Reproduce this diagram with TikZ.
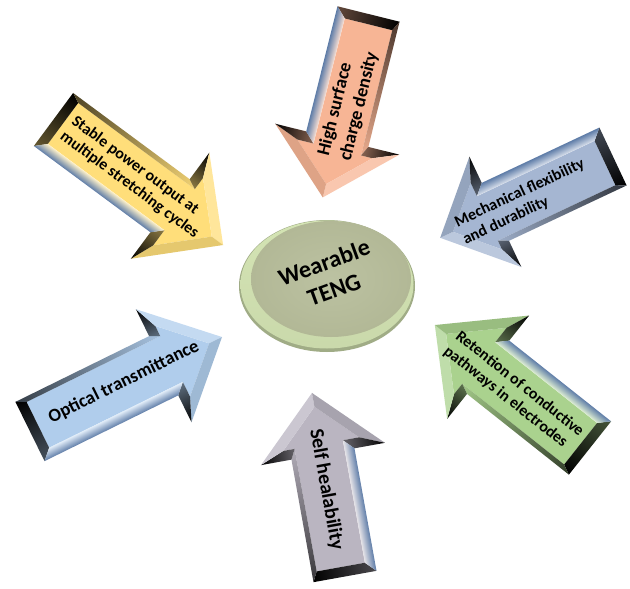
\documentclass[tikz,border=0pt]{standalone}
\usepackage{fontspec}
\setmainfont{Carlito}
\definecolor{cyel}{RGB}{255,222,122}
\definecolor{cpink}{RGB}{247,181,149}
\definecolor{cmech}{RGB}{165,182,210}
\definecolor{copt}{RGB}{176,205,236}
\definecolor{cgreen}{RGB}{170,210,142}
\definecolor{cgray}{RGB}{186,181,193}
\definecolor{csteel}{RGB}{95,125,168}
\definecolor{cface}{RGB}{178,184,150}
\definecolor{cfacein}{RGB}{188,194,162}
\definecolor{crim}{RGB}{212,228,180}
\definecolor{crimdark}{RGB}{160,172,134}
\tikzset{
  lbl/.style={align=left, inner sep=0pt, text=black, font=\bfseries},
}
\newcommand{\arrowbody}[5]{%
  \pgfmathsetmacro{\arL}{#1}%
  \pgfmathsetmacro{\arW}{#2}%
  \pgfmathsetmacro{\arH}{#3}%
  \pgfmathsetmacro{\arA}{#4}%
  \pgfmathsetmacro{\arB}{10}%
  \pgfmathsetmacro{\arS}{sqrt(\arH*\arH+\arA*\arA)}%
  \pgfmathsetmacro{\arX}{\arL-\arA}%
  \pgfmathsetmacro{\arXi}{\arL-\arA+\arB}%
  \pgfmathsetmacro{\arYi}{\arH-\arB*(\arH+\arS)/\arA}%
  \pgfmathsetmacro{\arTip}{\arL-\arB*\arS/\arH}%
  \pgfmathsetmacro{\arWi}{\arW-\arB}%
  \pgfmathsetmacro{\arWt}{\arW-5}%
  \coordinate (P1) at (0,-\arW);
  \coordinate (P2) at (\arX,-\arW);
  \coordinate (P3) at (\arX,-\arH);
  \coordinate (P4) at (\arL,0);
  \coordinate (P5) at (\arX,\arH);
  \coordinate (P6) at (\arX,\arW);
  \coordinate (P7) at (0,\arW);
  \coordinate (I1) at (\arB,-\arWt);
  \coordinate (I2) at (\arXi,-\arWt);
  \coordinate (I3) at (\arXi,-\arYi);
  \coordinate (I4) at (\arTip,0);
  \coordinate (I5) at (\arXi,\arYi);
  \coordinate (I6) at (\arXi,\arWi);
  \coordinate (I7) at (\arB,\arWi);
  \fill[#5] (I1) -- (I2) -- (I3) -- (I4) -- (I5) -- (I6) -- (I7) -- cycle;
  \shade[top color=black, bottom color=#5!40!black] (P7) -- (P1) -- (I1) -- (I7) -- cycle;
  \shade[left color=#5!30!black, middle color=#5!85!black, right color=#5!95!black] (P1) -- (P2) -- (I2) -- (I1) -- cycle;
  \shade[top color=black, bottom color=#5!55!black] (P2) -- (P3) -- (I3) -- (I2) -- cycle;
  \fill[#5!75!white] (P3) -- (P4) -- (I4) -- (I3) -- cycle;
  \fill[#5!90!black] (P4) -- (P5) -- (I5) -- (I4) -- cycle;
  \shade[top color=#5!55!black, bottom color=black] (P5) -- (P6) -- (I6) -- (I5) -- cycle;
  \shade[top color=#5!40!white, bottom color=csteel] (P6) -- (P7) -- (I7) -- (I6) -- cycle;
}
\begin{document}
\begin{tikzpicture}[x=1pt,y=-1pt]
  \useasboundingbox (0,0) rectangle (630,589);
  \fill[white] (0,0) rectangle (630,589);

  % central disk
  \fill[crimdark] (327,286) ellipse [x radius=88, y radius=66];
  \shade[top color=crim, bottom color=crim!80!crimdark] (327,284.5) ellipse [x radius=86.5, y radius=64];
  \shade[inner color=cfacein, outer color=cface] (331,279) ellipse [x radius=80, y radius=58];
  \node[lbl, align=center, rotate=20, font=\bfseries\fontsize{24}{29}\selectfont] (teng) at (329,276) {Wearable\\TENG};

  % arrow bodies
  \begin{scope}[transform canvas={shift={(53.5,119.5)},rotate=-36.5}]
    \arrowbody{211}{33}{66}{66}{cyel}
  \end{scope}
  \begin{scope}[transform canvas={shift={(368.5,14)},rotate=-104}]
    \arrowbody{189}{32}{64}{60}{cpink}
  \end{scope}
  \begin{scope}[transform canvas={shift={(613,156.5)},rotate=-154.8}]
    \arrowbody{191}{32}{61}{61}{cmech}
  \end{scope}
  \begin{scope}[transform canvas={shift={(30,431.5)},rotate=26.2}]
    \arrowbody{214}{33}{63}{65}{copt}
  \end{scope}
  \begin{scope}[transform canvas={shift={(590,448)},rotate=141.6}]
    \arrowbody{198}{34}{66}{68}{cgreen}
  \end{scope}
  \begin{scope}[transform canvas={shift={(345,576.5)},rotate=100.2}]
    \arrowbody{186.5}{32}{63}{62}{cgray}
  \end{scope}

  % arrow labels
  \node[lbl, rotate=-36.5, font=\bfseries\fontsize{16}{19}\selectfont] (stable) at (135.1,177.4) {Stable power output at\\multiple stretching cycles};
  \node[lbl, rotate=76, font=\bfseries\fontsize{18.5}{22.5}\selectfont] (charge) at (348.2,103.8) {High surface\\charge density};
  \node[lbl, rotate=25.2, font=\bfseries\fontsize{16}{19}\selectfont] (mech) at (523.8,201.8) {Mechanical flexibility\\and durability};
  \node[lbl, rotate=26.2, font=\bfseries\fontsize{18.5}{22}\selectfont] (optical) at (123.8,382.0) {Optical transmittance};
  \node[lbl, rotate=-38.4, font=\bfseries\fontsize{16}{19}\selectfont] (retention) at (513.7,391.4) {Retention of conductive\\pathways in electrodes};
  \node[lbl, rotate=-79.8, font=\bfseries\fontsize{20}{24}\selectfont] (heal) at (326.3,489.4) {Self healability};
\end{tikzpicture}
\end{document}
